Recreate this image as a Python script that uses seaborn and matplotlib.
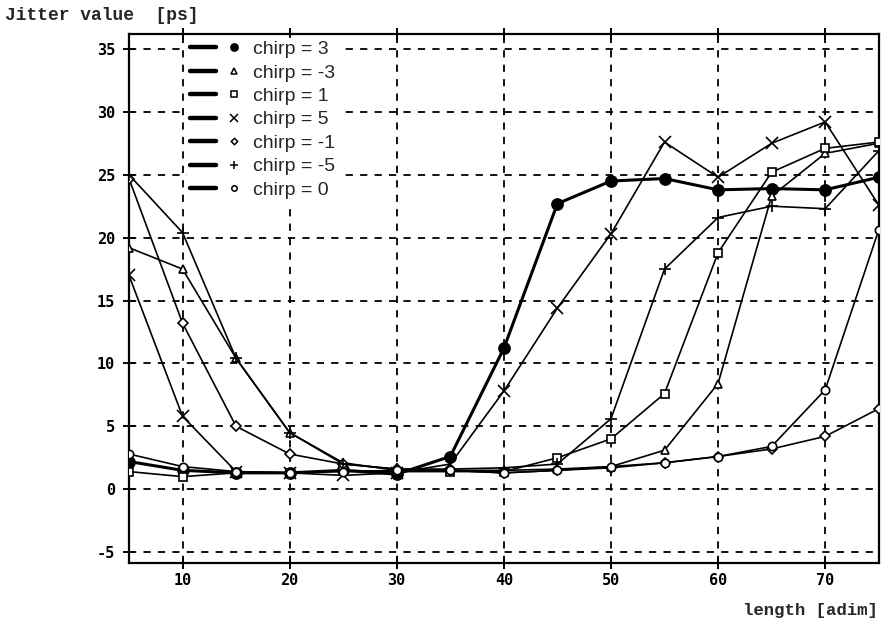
import matplotlib
matplotlib.use("Agg")
import matplotlib.pyplot as plt
from matplotlib.lines import Line2D
from matplotlib.legend_handler import HandlerTuple
import seaborn as sns
import pandas as pd

# fiber length samples (adim)
length = [5, 10, 15, 20, 25, 30, 35, 40, 45, 50, 55, 60, 65, 70, 75]

# jitter values in ps, one list per chirp setting
jitter_c3 = [2.2, 1.5, 1.3, 1.3, 1.5, 1.2, 2.6, 11.2, 22.7, 24.5, 24.7, 23.8, 23.9, 23.8, 24.8]
jitter_cm3 = [19.2, 17.5, 10.4, 4.5, 2.1, 1.5, 1.5, 1.5, 1.6, 1.8, 3.1, 8.4, 23.3, 26.7, 27.5]
jitter_c1 = [1.4, 1.0, 1.3, 1.3, 1.5, 1.4, 1.4, 1.4, 2.5, 4.0, 7.6, 18.8, 25.2, 27.1, 27.6]
jitter_c5 = [17.0, 5.8, 1.4, 1.3, 1.1, 1.3, 2.0, 7.8, 14.4, 20.3, 27.6, 24.8, 27.5, 29.2, 22.6]
jitter_cm1 = [24.7, 13.2, 5.0, 2.8, 2.0, 1.6, 1.5, 1.3, 1.5, 1.7, 2.1, 2.6, 3.2, 4.2, 6.4]
jitter_cm5 = [25.0, 20.4, 10.4, 4.5, 2.0, 1.6, 1.6, 1.7, 2.0, 5.6, 17.5, 21.6, 22.5, 22.3, 26.9]
jitter_c0 = [2.8, 1.8, 1.4, 1.3, 1.4, 1.5, 1.5, 1.3, 1.5, 1.8, 2.1, 2.6, 3.4, 7.9, 20.6]

labels = ["chirp = 3", "chirp = -3", "chirp = 1", "chirp = 5",
          "chirp = -1", "chirp = -5", "chirp = 0"]
series = [jitter_c3, jitter_cm3, jitter_c1, jitter_c5, jitter_cm1, jitter_cm5, jitter_c0]

# marker style per curve: (marker, filled, size, line width)
styles = [
    ("o", True, 8, 2.2),
    ("^", False, 6, 1.2),
    ("s", False, 6, 1.2),
    ("x", True, 8, 1.2),
    ("D", False, 5, 1.2),
    ("+", True, 9, 1.2),
    ("o", False, 6, 1.2),
]

sns.set_style("white")
plt.rcParams["font.family"] = ["DejaVu Sans"]
plt.rcParams["axes.unicode_minus"] = False

fig = plt.figure(figsize=(8.81, 6.27), dpi=100)
ax = fig.add_axes([0.1464, 0.102, 0.851, 0.844])

handles = []
for vals, lab, (mk, filled, ms, lw) in zip(series, labels, styles):
    df = pd.DataFrame({"length": length, "jitter": vals})
    face = "black" if filled else "white"
    sns.lineplot(data=df, x="length", y="jitter", ax=ax, color="black",
                 linewidth=lw, marker=mk, markersize=ms,
                 markerfacecolor=face, markeredgecolor="black",
                 markeredgewidth=1.2, zorder=3)
    line_h = Line2D([], [], color="black", linewidth=3.2)
    mark_h = Line2D([], [], color="black", linestyle="none", marker=mk,
                    markersize=ms * 0.65, markerfacecolor=face,
                    markeredgecolor="black", markeredgewidth=1.1)
    handles.append((line_h, mark_h))

ax.set_xlim(5, 75)
ax.set_ylim(-5.87, 36.2)
ax.set_xticks(range(10, 71, 10))
ax.set_yticks(range(-5, 36, 5))
ax.grid(True, color="black", linestyle=(0, (4, 4)), linewidth=1.3)
for side in ax.spines.values():
    side.set_color("black")
    side.set_linewidth(1.6)

ax.tick_params(axis="both", which="both", direction="inout", length=8,
               width=1.4, color="black", labelsize=11, labelcolor="black")
ax.tick_params(axis="x", top=True, bottom=True, pad=3)
ax.tick_params(axis="y", left=True, right=False, pad=6)
for t in ax.get_xticklabels() + ax.get_yticklabels():
    t.set_fontweight("bold")
    t.set_family("DejaVu Sans Mono")

ax.set_xlabel("")
ax.set_ylabel("")
fig.text(0.006, 0.976, "Jitter value  [ps]", fontsize=13, fontweight="bold",
         family="Liberation Mono", ha="left", va="center")
fig.text(0.997, 0.026, "length [adim]", fontsize=12.5, fontweight="bold",
         family="Liberation Mono", ha="right", va="center")

leg = ax.legend(handles, labels, loc="upper left", bbox_to_anchor=(0.078, 0.993),
                handler_map={tuple: HandlerTuple(ndivide=None, pad=0.25)},
                handlelength=2.9, handletextpad=0.3, labelspacing=0.3,
                frameon=True, fancybox=False, framealpha=1.0,
                borderpad=0.15, borderaxespad=0.0,
                prop={"family": ["Liberation Sans", "DejaVu Sans"], "size": 14})
leg.get_frame().set_edgecolor("white")
leg.get_frame().set_facecolor("white")
leg.set_zorder(5)

fig.savefig("out.png", dpi=100)
